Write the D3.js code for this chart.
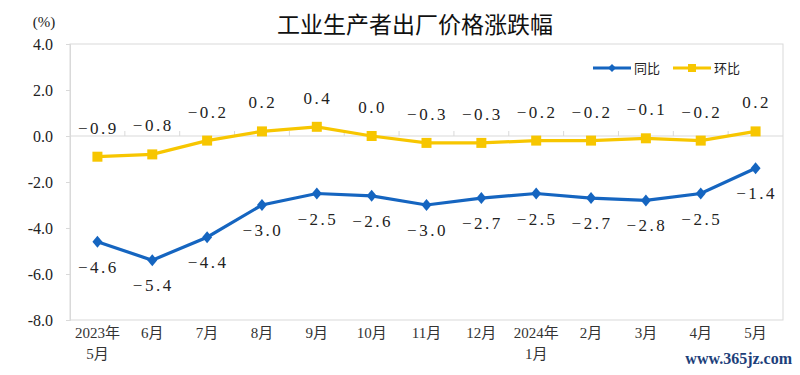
<!DOCTYPE html>
<html>
<head>
<meta charset="utf-8">
<script src="https://cdn.jsdelivr.net/npm/d3@7"></script>
<style>
  body { margin: 0; background: #fff; }
  svg { display: block; }
</style>
</head>
<body>
<div id="chart"></div>
<script>
/* PPI year-on-year and month-on-month line chart */

// data
const months = ["2023年|5月", "6月", "7月", "8月", "9月", "10月", "11月", "12月",
    "2024年|1月", "2月", "3月", "4月", "5月"];
const yoy = [-4.6, -5.4, -4.4, -3.0, -2.5, -2.6, -3.0, -2.7, -2.5, -2.7, -2.8, -2.5, -1.4]; // 同比
const mom = [-0.9, -0.8, -0.2, 0.2, 0.4, 0.0, -0.3, -0.3, -0.2, -0.2, -0.1, -0.2, 0.2]; // 环比
const yTicks = [4, 2, 0, -2, -4, -6, -8];

const width = 800,
    height = 375,
    margin = ({ top: 44, right: 17, bottom: 55, left: 70 });

const blue = "#1565c0",
    yellow = "#f7c600",
    serif = "Liberation Serif, Times New Roman, Noto Sans CJK SC, serif";

let svg = d3.select("#chart")
    .append("svg")
    .attr("width", width)
    .attr("height", height);

// scales
let x = d3.scaleBand()
    .domain(months)
    .range([margin.left, width - margin.right]);

let y = d3.scaleLinear()
    .domain([-8, 4])
    .range([height - margin.bottom, margin.top]);

const cx = (d, i) => x(months[i]) + x.bandwidth() / 2;

// plot border
svg.append("rect")
    .attr("x", margin.left)
    .attr("y", y(4))
    .attr("width", width - margin.right - margin.left)
    .attr("height", y(-8) - y(4))
    .attr("fill", "none")
    .attr("stroke", "#d9d9d9");

// y axis
let yAxis = svg.append("g")
    .attr("transform", `translate(${margin.left},0)`)
    .call(d3.axisLeft(y).tickValues(yTicks).tickSize(4).tickPadding(13));
yAxis.select(".domain").attr("stroke", "#d9d9d9");
yAxis.selectAll(".tick line").attr("stroke", "#d9d9d9");
yAxis.selectAll(".tick text")
    .style("font-family", serif)
    .style("font-size", "16px")
    .attr("fill", "#222")
    .text(d => d3.format(".1f")(d).replace("−", "-"));

// category line at zero with tick marks between months
let xAxis = svg.append("g")
    .attr("transform", `translate(0,${y(0)})`);
xAxis.append("line")
    .attr("x1", margin.left).attr("x2", width - margin.right)
    .attr("stroke", "#d9d9d9");
xAxis.selectAll(".sep")
    .data(months.slice(1))
    .join("line")
    .attr("x1", d => x(d)).attr("x2", d => x(d))
    .attr("y1", 0).attr("y2", -5)
    .attr("stroke", "#d9d9d9");

// month labels under the plot
let mlab = svg.append("g")
    .selectAll("text")
    .data(months)
    .join("text")
    .attr("x", d => x(d) + x.bandwidth() / 2)
    .attr("y", y(-8) + 18)
    .attr("text-anchor", "middle")
    .style("font-family", serif)
    .style("font-size", "15px")
    .attr("fill", "#333");
mlab.each(function (d) {
    const parts = d.split("|");
    d3.select(this).selectAll("tspan")
        .data(parts)
        .join("tspan")
        .attr("x", x(d) + x.bandwidth() / 2)
        .attr("dy", (p, i) => i === 0 ? 0 : 21)
        .text(p => p);
});

// lines
let line = d3.line()
    .x(cx)
    .y(d => y(d));

svg.append("path")
    .datum(mom)
    .attr("fill", "none")
    .attr("stroke", yellow)
    .attr("stroke-width", 3.2)
    .attr("d", line);

svg.append("path")
    .datum(yoy)
    .attr("fill", "none")
    .attr("stroke", blue)
    .attr("stroke-width", 3.2)
    .attr("d", line);

// markers
svg.append("g")
    .selectAll("rect")
    .data(mom)
    .join("rect")
    .attr("x", (d, i) => cx(d, i) - 5)
    .attr("y", d => y(d) - 5)
    .attr("width", 10)
    .attr("height", 10)
    .attr("fill", yellow);

svg.append("g")
    .selectAll("path")
    .data(yoy)
    .join("path")
    .attr("transform", (d, i) => `translate(${cx(d, i)},${y(d)})`)
    .attr("d", "M0,-6L5,0L0,6L-5,0Z")
    .attr("fill", blue);

// value labels
const fmt = v => d3.format(".1f")(v).replace("-", "−");

svg.append("g")
    .selectAll("text")
    .data(mom)
    .join("text")
    .attr("x", (d, i) => cx(d, i) + 1)
    .attr("y", d => y(d) - 23)
    .attr("text-anchor", "middle")
    .style("font-family", serif)
    .style("font-size", "17px")
    .attr("letter-spacing", 2.5)
    .attr("fill", "#222")
    .text(fmt);

svg.append("g")
    .selectAll("text")
    .data(yoy)
    .join("text")
    .attr("x", (d, i) => cx(d, i) + 1)
    .attr("y", d => y(d) + 31)
    .attr("text-anchor", "middle")
    .style("font-family", serif)
    .style("font-size", "17px")
    .attr("letter-spacing", 2.5)
    .attr("fill", "#222")
    .text(fmt);

// title and unit
svg.append("text")
    .attr("x", 415)
    .attr("y", 33)
    .attr("text-anchor", "middle")
    .style("font-family", "Noto Sans CJK SC, sans-serif")
    .style("font-size", "23px")
    .attr("fill", "#111")
    .text("工业生产者出厂价格涨跌幅");

svg.append("text")
    .attr("x", 44)
    .attr("y", 27)
    .attr("text-anchor", "middle")
    .style("font-family", serif)
    .style("font-size", "15px")
    .attr("fill", "#222")
    .text("(%)");

// legend
let legend = svg.append("g").attr("transform", "translate(593,68)");
let items = [{ name: "同比", color: blue, dx: 0 }, { name: "环比", color: yellow, dx: 80 }];
let li = legend.selectAll("g")
    .data(items)
    .join("g")
    .attr("transform", d => `translate(${d.dx},0)`);
li.append("line")
    .attr("x1", 0).attr("x2", 38)
    .attr("stroke", d => d.color)
    .attr("stroke-width", 3);
li.filter(d => d.name === "同比").append("path")
    .attr("d", "M19,-4L23,0L19,4L15,0Z")
    .attr("fill", blue);
li.filter(d => d.name === "环比").append("rect")
    .attr("x", 15).attr("y", -4).attr("width", 8).attr("height", 8)
    .attr("fill", yellow);
li.append("text")
    .attr("x", 41)
    .attr("y", 5)
    .style("font-family", "Noto Sans CJK SC, sans-serif")
    .style("font-size", "13px")
    .attr("fill", "#222")
    .text(d => d.name);

// site mark
svg.append("text")
    .attr("x", 792)
    .attr("y", 364)
    .attr("text-anchor", "end")
    .style("font-family", serif)
    .attr("font-weight", "bold")
    .style("font-size", "16px")
    .attr("fill", "#1d3f7a")
    .text("www.365jz.com");
</script>
</body>
</html>
